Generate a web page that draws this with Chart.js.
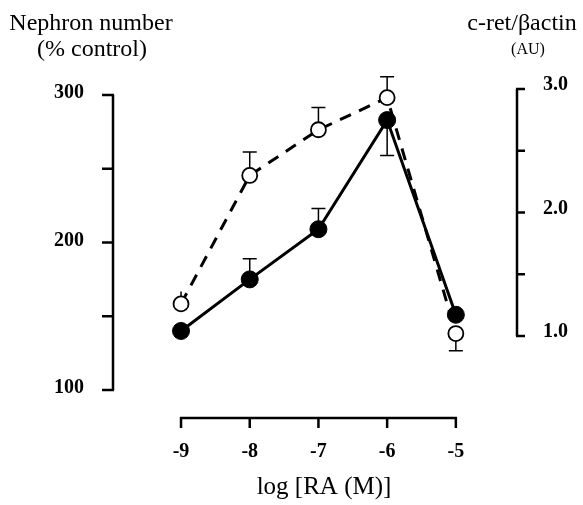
<!DOCTYPE html>
<html>
<head>
<meta charset="utf-8">
<script src="https://cdn.jsdelivr.net/npm/chart.js@4"></script>
<style>
  body { margin: 0; background: #fff; }
  canvas { display: block; }
</style>
</head>
<body>
<canvas id="chart" width="583" height="505"></canvas>
<script>
// log [RA (M)]
const doses = [-9, -8, -7, -6, -5];

// nephron number, % control (filled circles, left axis)
const nephron = [140, 175, 209, 283, 151];
const nephronErrUp = [0, 14, 14, 0, 0];
const nephronErrDown = [0, 0, 0, 24, 0];

// c-ret / beta-actin, AU (open circles, right axis)
const cret = [1.26, 2.30, 2.67, 2.93, 1.02];
const cretErrUp = [0.10, 0.19, 0.18, 0.17, 0];
const cretErrDown = [0, 0, 0, 0, 0.14];

const leftTicks = [100, 150, 200, 250, 300];
const leftLabels = ['100', '', '200', '', '300'];
const rightTicks = [1.0, 1.5, 2.0, 2.5, 3.0];
const rightLabels = ['1.0', '', '2.0', '', '3.0'];
const xLabels = ['-9', '-8', '-7', '-6', '-5'];

const serif = '"Liberation Serif", "DejaVu Serif", serif';

function errorBars(chart, idx, axisId, up, down) {
    const ctx = chart.ctx;
    const xs = chart.scales.x;
    const ys = chart.scales[axisId];
    const vals = chart.data.datasets[idx].data;
    ctx.save();
    ctx.strokeStyle = '#000';
    ctx.lineWidth = 1.5;
    vals.forEach((p, i) => {
        const px = xs.getPixelForValue(p.x);
        const py = ys.getPixelForValue(p.y);
        [[up[i], -1], [down[i], 1]].forEach(([e, dir]) => {
            if (!e) return;
            const end = ys.getPixelForValue(p.y - dir * e);
            ctx.beginPath();
            ctx.moveTo(px, py);
            ctx.lineTo(px, end);
            if (Math.abs(end - py) > 16) {
                ctx.moveTo(px - 7, end);
                ctx.lineTo(px + 7, end);
            }
            ctx.stroke();
        });
    });
    ctx.restore();
}

const axesPlugin = {
    id: 'axesPlugin',
    beforeDatasetsDraw(chart) {
        errorBars(chart, 0, 'yL', nephronErrUp, nephronErrDown);
        errorBars(chart, 1, 'yR', cretErrUp, cretErrDown);
    },
    afterDraw(chart) {
        const ctx = chart.ctx;
        const xs = chart.scales.x;
        const yl = chart.scales.yL;
        const yr = chart.scales.yR;
        const area = chart.chartArea;
        ctx.save();
        ctx.strokeStyle = '#000';
        ctx.fillStyle = '#000';
        ctx.lineWidth = 2.5;
        ctx.lineCap = 'butt';

        // left axis
        const lx = area.left;
        ctx.beginPath();
        ctx.moveTo(lx, yl.getPixelForValue(leftTicks[0]));
        ctx.lineTo(lx, yl.getPixelForValue(leftTicks[leftTicks.length - 1]));
        leftTicks.forEach(t => {
            const y = yl.getPixelForValue(t);
            ctx.moveTo(lx + 1, y);
            ctx.lineTo(lx - 11, y);
        });
        ctx.stroke();
        ctx.font = 'bold 20px ' + serif;
        ctx.textAlign = 'right';
        ctx.textBaseline = 'middle';
        leftTicks.forEach((t, i) => {
            if (leftLabels[i]) ctx.fillText(leftLabels[i], 84, yl.getPixelForValue(t) - 2);
        });

        // right axis
        const rx = area.right;
        ctx.beginPath();
        ctx.moveTo(rx, yr.getPixelForValue(rightTicks[0]));
        ctx.lineTo(rx, yr.getPixelForValue(rightTicks[rightTicks.length - 1]));
        rightTicks.forEach(t => {
            const y = yr.getPixelForValue(t);
            ctx.moveTo(rx - 1, y);
            ctx.lineTo(rx + 8, y);
        });
        ctx.stroke();
        ctx.textAlign = 'left';
        rightTicks.forEach((t, i) => {
            if (rightLabels[i]) ctx.fillText(rightLabels[i], 543, yr.getPixelForValue(t) - 4);
        });

        // x axis
        const by = area.bottom;
        ctx.beginPath();
        ctx.moveTo(xs.getPixelForValue(doses[0]) - 1, by);
        ctx.lineTo(xs.getPixelForValue(doses[doses.length - 1]) + 1, by);
        doses.forEach(d => {
            const x = xs.getPixelForValue(d);
            ctx.moveTo(x, by - 1);
            ctx.lineTo(x, by + 10);
        });
        ctx.stroke();
        ctx.textAlign = 'center';
        doses.forEach((d, i) => {
            ctx.fillText(xLabels[i], xs.getPixelForValue(d), 452);
        });

        // titles
        ctx.textBaseline = 'alphabetic';
        ctx.font = '25px ' + serif;
        ctx.fillText('log [RA (M)]', 324, 494);
        ctx.font = '24px ' + serif;
        ctx.fillText('Nephron number', 91, 30);
        ctx.fillText('(% control)', 92, 56);
        ctx.fillText('c-ret/\u03b2actin', 522, 30);
        ctx.font = '16px ' + serif;
        ctx.fillText('(AU)', 528, 54);
        ctx.restore();
    }
};

new Chart(document.getElementById('chart').getContext('2d'), {
    type: 'line',
    data: {
        datasets: [
            {
                label: 'Nephron number',
                data: doses.map((d, i) => ({ x: d, y: nephron[i] })),
                yAxisID: 'yL',
                borderColor: '#000',
                borderWidth: 3,
                pointRadius: 8.5,
                pointBackgroundColor: '#000',
                pointBorderColor: '#000',
                pointBorderWidth: 1,
                tension: 0
            },
            {
                label: 'c-ret/\u03b2actin',
                data: doses.map((d, i) => ({ x: d, y: cret[i] })),
                yAxisID: 'yR',
                borderColor: '#000',
                borderWidth: 3,
                borderDash: [12, 9],
                pointRadius: 7.5,
                pointBackgroundColor: '#fff',
                pointBorderColor: '#000',
                pointBorderWidth: 1.8,
                tension: 0
            }
        ]
    },
    options: {
        responsive: false,
        animation: false,
        layout: { padding: { left: 113, right: 66, top: 80, bottom: 87 } },
        plugins: { legend: { display: false }, tooltip: { enabled: false } },
        scales: {
            x: { type: 'linear', min: -9.99, max: -4.11, display: false },
            yL: { type: 'linear', position: 'left', min: 81, max: 310.2, display: false },
            yR: { type: 'linear', position: 'right', min: 0.336, max: 3.073, display: false }
        }
    },
    plugins: [axesPlugin]
});
</script>
</body>
</html>
